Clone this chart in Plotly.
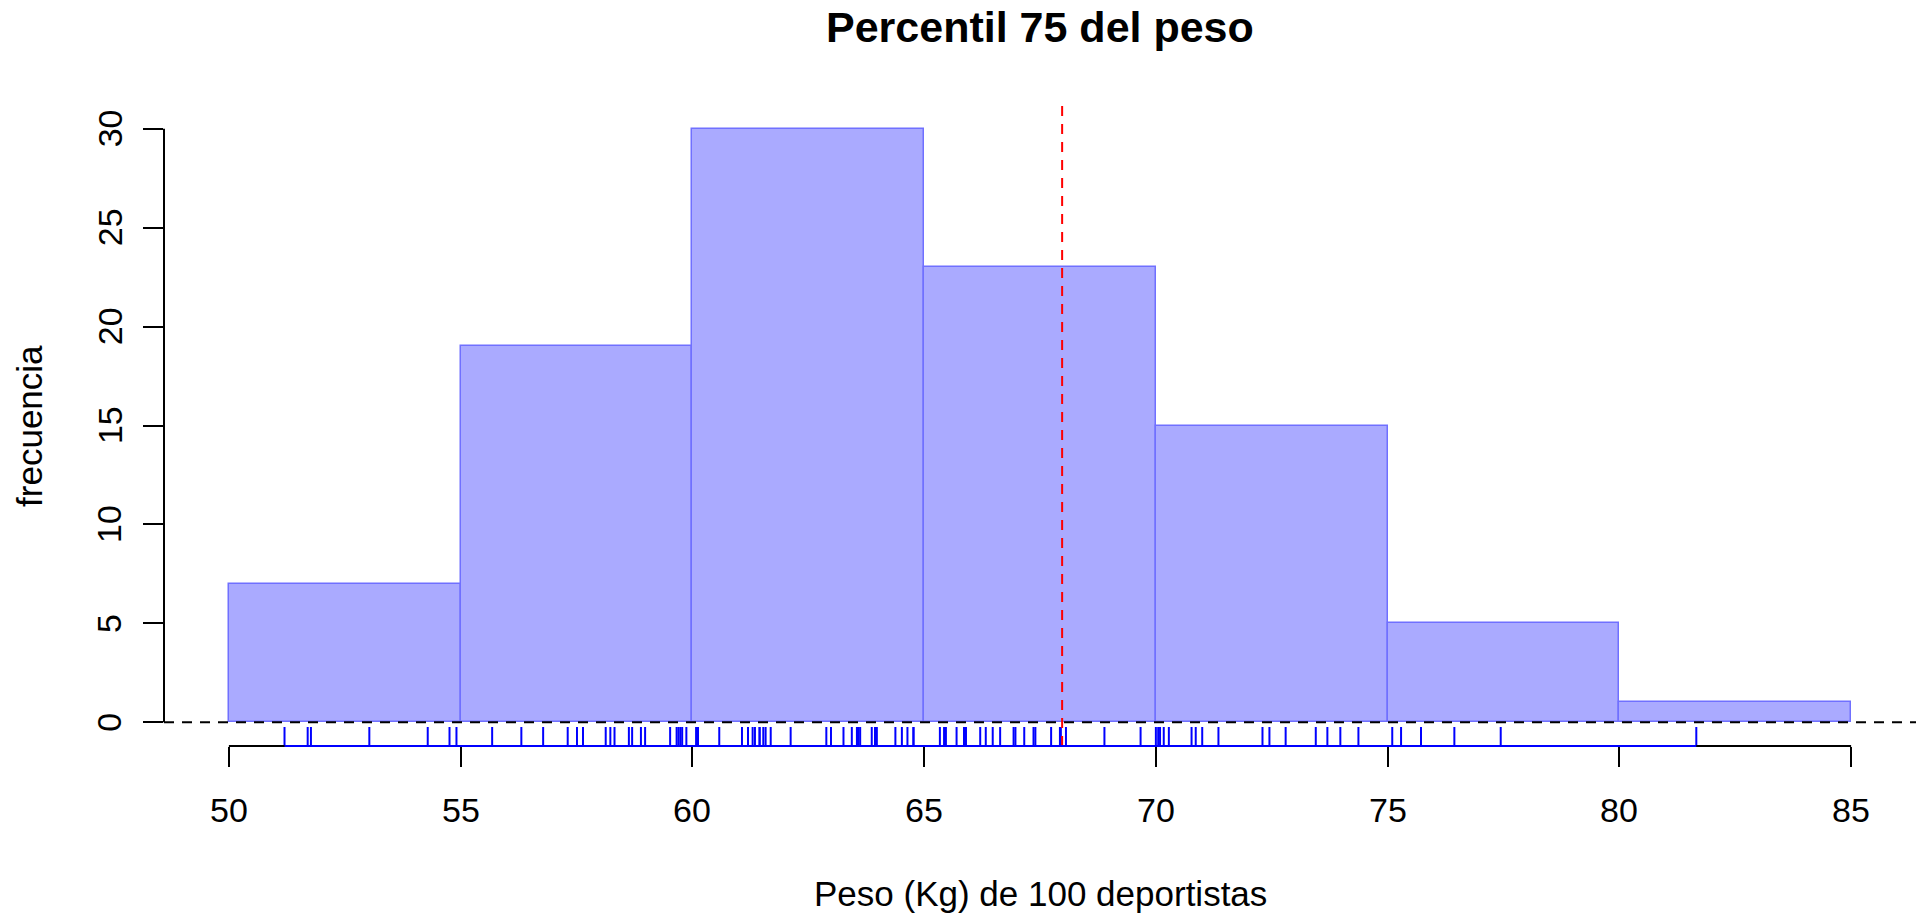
import numpy as np
import plotly.graph_objects as go

# ---- data ----
pesos = [
    51.20, 51.70, 51.77, 53.03, 54.29, 54.76, 54.91,
    55.68, 56.31, 56.78, 57.31, 57.51, 57.64, 58.13, 58.23, 58.32, 58.63, 58.70,
    58.89, 58.98, 59.52, 59.66, 59.70, 59.74, 59.78, 59.87,
    60.08, 60.12, 60.12, 60.58, 61.07, 61.20, 61.30, 61.35, 61.45, 61.45, 61.53,
    61.58, 61.69, 62.12, 62.89, 62.99, 63.26, 63.44, 63.55, 63.58, 63.58, 63.62,
    63.87, 63.94, 63.98, 64.38, 64.52, 64.64, 64.77, 64.77,
    65.34, 65.43, 65.47, 65.70, 65.86, 65.90, 65.90, 66.21, 66.33, 66.48, 66.64,
    66.93, 66.97, 67.16, 67.36, 67.40, 67.74, 67.93, 67.95, 68.06, 68.89, 69.67, 70.00,
    70.05, 70.09, 70.17, 70.28, 70.77, 70.86, 71.00, 71.35, 72.30, 72.45, 72.80,
    73.45, 73.70, 73.98, 74.37,
    75.10, 75.29, 75.72, 76.44, 77.44,
    81.66,
]
bordes = [50, 55, 60, 65, 70, 75, 80, 85]
conteos = [7, 19, 30, 23, 15, 5, 1]
xticks = [50, 55, 60, 65, 70, 75, 80, 85]
yticks = [0, 5, 10, 15, 20, 25, 30]

titulo = "Percentil 75 del peso"
xlab = "Peso (Kg) de 100 deportistas"
ylab = "frecuencia"

p75 = float(np.percentile(pesos, 75))

centros = [(a + b) / 2 for a, b in zip(bordes[:-1], bordes[1:])]
anchos = [b - a for a, b in zip(bordes[:-1], bordes[1:])]

FONT = "Liberation Sans, Arial, Helvetica, sans-serif"

W, H = 1916, 914
L, R, T, B = 163.6, 0, 104.8, 914 - 745.7
pw = W - L - R
ph = H - T - B
BOTTOM = H - B  # pixel row of plot bottom

xr = [48.6, 86.4]
yr = [-1.2, 31.2]

fig = go.Figure()
fig.add_trace(go.Bar(
    x=centros, y=conteos, width=anchos,
    marker=dict(color="#AAAAFF", line=dict(color="#7070FF", width=1.5)),
    hoverinfo="skip", showlegend=False,
))

# rug
rug_len = 19 / ph * (yr[1] - yr[0])
rx, ry = [], []
for v in pesos:
    rx += [v, v, None]
    ry += [yr[0], yr[0] + rug_len, None]
fig.add_trace(go.Scatter(
    x=rx, y=ry, mode="lines", line=dict(color="#0000FF", width=2),
    hoverinfo="skip", showlegend=False,
))

shapes = [
    dict(type="line", xref="paper", yref="y", x0=0, x1=1, y0=0, y1=0,
         line=dict(color="black", width=2, dash="10px,8px"), layer="above"),
    dict(type="line", xref="x", yref="paper", x0=p75, x1=p75, y0=0, y1=1,
         line=dict(color="#FF0000", width=2, dash="10px,8px"), layer="above"),
    dict(type="line", xref="x", yref="paper", x0=xticks[0], x1=xticks[-1], y0=0, y1=0,
         line=dict(color="black", width=2), layer="above"),
    dict(type="line", xref="x", yref="paper", x0=min(pesos), x1=max(pesos), y0=0, y1=0,
         line=dict(color="#0000FF", width=2), layer="above"),
    dict(type="line", xref="paper", yref="y", x0=0, x1=0, y0=yticks[0], y1=yticks[-1],
         line=dict(color="black", width=2), layer="above"),
]

TICKSIZE = 34
annotations = [
    dict(text="<b>" + titulo + "</b>", xref="paper", yref="paper",
         x=0.5, y=(BOTTOM - 27) / ph, xanchor="center", yanchor="middle",
         showarrow=False, font=dict(family=FONT, size=43, color="black")),
    dict(text=xlab, xref="paper", yref="paper",
         x=0.5, y=(BOTTOM - 893) / ph, xanchor="center", yanchor="middle",
         showarrow=False, font=dict(family=FONT, size=35, color="black")),
    dict(text=ylab, xref="paper", yref="paper",
         x=-(L - 29) / pw, y=0.5, xanchor="center", yanchor="middle", textangle=-90,
         showarrow=False, font=dict(family=FONT, size=35, color="black")),
]
# tick labels placed at the positions of the reference
for t in xticks:
    annotations.append(dict(
        text=str(t), xref="x", yref="paper", x=t, y=(BOTTOM - 809.5) / ph,
        xanchor="center", yanchor="middle", showarrow=False,
        font=dict(family=FONT, size=TICKSIZE, color="black")))
for t in yticks:
    annotations.append(dict(
        text=str(t), xref="paper", yref="y", x=-(L - 109.2) / pw, y=t,
        xanchor="center", yanchor="middle", textangle=-90, showarrow=False,
        font=dict(family=FONT, size=TICKSIZE, color="black")))

fig.update_layout(
    width=W, height=H,
    margin=dict(l=L, r=R, t=T, b=B, pad=0),
    paper_bgcolor="white", plot_bgcolor="white",
    shapes=shapes, annotations=annotations,
    bargap=0, showlegend=False,
    font=dict(family=FONT, size=34, color="black"),
    xaxis=dict(range=xr, tickvals=xticks, showticklabels=False,
               ticks="outside", ticklen=20, tickwidth=2, tickcolor="black",
               showline=False, showgrid=False, zeroline=False),
    yaxis=dict(range=yr, tickvals=yticks, showticklabels=False,
               ticks="outside", ticklen=20, tickwidth=2, tickcolor="black",
               showline=False, showgrid=False, zeroline=False),
)

fig.write_html("out.html")
